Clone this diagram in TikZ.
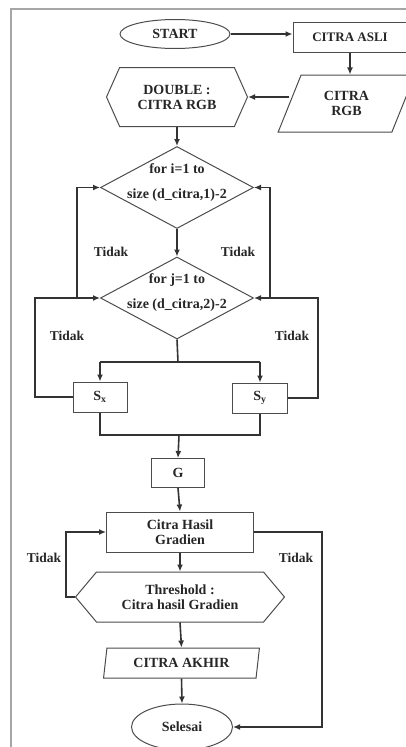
\documentclass[tikz,border=0pt]{standalone}
\usepackage{fontspec}
\setmainfont{Liberation Serif}
\usetikzlibrary{shapes.geometric, shapes.symbols, arrows.meta}

\begin{document}
\begin{tikzpicture}[x=1pt, y=-1pt,
        every node/.style={font=\fontsize{14}{15}\selectfont\bfseries, text=black!85},
        term/.style={ellipse, draw=black!70, line width=1pt, inner sep=0pt},
        proc/.style={rectangle, draw=black!70, line width=1pt, inner sep=0pt, align=center},
        io/.style={trapezium, trapezium stretches=true, draw=black!70, line width=1pt, inner sep=0pt, align=center},
        prep/.style={signal, signal to=west and east, draw=black!70, line width=1pt, inner sep=0pt, align=center},
        loopdec/.style={diamond, draw=black!70, line width=1pt, inner sep=0pt, minimum width=153pt, minimum height=82pt},
        looptxt/.style={align=center, inner sep=0pt},
        flow/.style={-{Latex[length=7pt,width=6pt]}, line width=1.6pt, black!80},
        conn/.style={line width=1.6pt, black!80},
        lbl/.style={font=\fontsize{13.5}{14}\selectfont\bfseries}
    ]
    \useasboundingbox (0,0) rectangle (406,747);

    % --- frame ---
    \draw[gray!70, line width=1.5pt] (11,760) -- (11,9) -- (420,9);

    % --- nodes ---
    \node[term, minimum width=110pt, minimum height=29pt] (start) at (175,34) {START};
    \node[proc, minimum width=114pt, minimum height=30pt, font=\fontsize{13}{15}\selectfont\bfseries] (asli) at (350,37) {CITRA ASLI};
    \node[io, trapezium left angle=65, trapezium right angle=115, minimum width=137pt, minimum height=57pt] (rgb) at (346.5,103.5) {CITRA\\RGB};
    \node[prep, signal pointer angle=132, minimum width=141pt, minimum height=59pt] (double) at (177,97) {DOUBLE :\\CITRA RGB};

    \node[loopdec] (fi) at (177,187.5) {};
    \node[looptxt] (fitxt) at (177,182.5) {for i=1 to\\[10pt]size (d\_citra,1)-2};
    \node[loopdec] (fj) at (177,298) {};
    \node[looptxt] (fjtxt) at (177,293) {for j=1 to\\[10pt]size (d\_citra,2)-2};

    \node[proc, minimum width=54pt, minimum height=30pt] (sx) at (100,397) {S\textsubscript{x}};
    \node[proc, minimum width=55pt, minimum height=30pt] (sy) at (260,398) {S\textsubscript{y}};
    \node[proc, minimum width=53pt, minimum height=29pt] (g) at (178,473) {G};
    \node[proc, minimum width=147pt, minimum height=40pt] (hasil) at (180,532) {Citra Hasil\\Gradien};
    \node[prep, signal pointer angle=100, minimum width=209pt, minimum height=50pt] (thr) at (180,597) {Threshold :\\Citra hasil Gradien};
    \node[io, trapezium left angle=77, trapezium right angle=103, minimum width=157pt, minimum height=30pt] (akhir) at (181.5,663) {CITRA AKHIR};
    \node[term, minimum width=101pt, minimum height=46pt] (selesai) at (182,727) {Selesai};

    % --- helper points ---
    \coordinate (lo) at (35,298);
    \coordinate (li) at (77,298);
    \coordinate (ro) at (318,298);
    \coordinate (ri) at (270,298);
    \coordinate (split) at (178,362);
    \coordinate (join) at (179,435);
    \coordinate (tl) at (66,597);
    \coordinate (tr) at (322,727);

    % --- main flow ---
    \draw[flow, line width=2pt] (start.east) -- (asli.west |- start.east);
    \draw[flow] (asli.south) -- (asli.south |- rgb.north);
    \draw[flow] (double.east -| rgb.west) -- (double.east);
    \draw[flow] (double.south) -- (fi.north);
    \draw[flow] (fi.south) -- (fj.north);

    \draw[conn] (fj.south) -- (split);
    \draw[conn] (sx.north |- split) -- (sy.north |- split);
    \draw[flow] (sx.north |- split) -- (sx.north);
    \draw[flow] (sy.north |- split) -- (sy.north);

    \draw[conn] (sx.south) |- (join) -| (sy.south);
    \draw[flow] (join) -- (g.north);
    \draw[flow] (g.south) -- (hasil.north);
    \draw[flow] (hasil.south) -- (thr.north);
    \draw[flow] (thr.south) -- (akhir.north);
    \draw[flow] (akhir.south) -- (selesai.north);

    % --- loops ---
    \draw[flow] (sx.west) -| (lo) -- (fj.west);
    \draw[flow] (li) |- (fi.west);
    \draw[flow] (sy.east) -| (ro) -- (fj.east);
    \draw[flow] (ri) |- (fi.east);
    \draw[flow] (thr.west) -- (tl) |- (hasil.west);
    \draw[flow] (hasil.east) -| (tr) -- (selesai.east);

    % --- labels ---
    \node[lbl] (t1) at (111,252) {Tidak};
    \node[lbl] (t2) at (238,252) {Tidak};
    \node[lbl] (t3) at (67,336) {Tidak};
    \node[lbl] (t4) at (292,336) {Tidak};
    \node[lbl] (t5) at (44,558) {Tidak};
    \node[lbl] (t6) at (296,558) {Tidak};
\end{tikzpicture}
\end{document}
